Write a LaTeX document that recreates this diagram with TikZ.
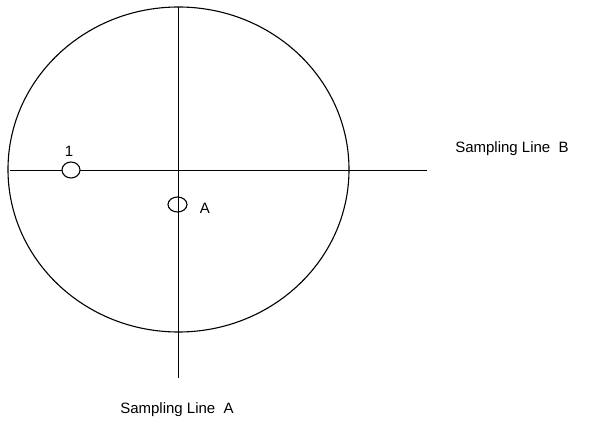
\documentclass[tikz,border=0pt]{standalone}
\usepackage{fontspec}
\setmainfont{Liberation Sans}
\usetikzlibrary{shapes.geometric,positioning}

\begin{document}
\begin{tikzpicture}[
  x=1pt, y=1pt,
  font=\fontsize{15}{18}\selectfont,
  line/.style={line width=1pt},
  site/.style={draw, ellipse, line width=1.1pt, fill=white, inner sep=0pt},
  lbl/.style={inner sep=0pt}
]
  \useasboundingbox (0,0) rectangle (603,429);
  % plot outline
  \node[draw, ellipse, line width=1.1pt, minimum width=341pt, minimum height=325pt, inner sep=0pt] (plot) at (178.5,259.5) {};
  % sampling lines
  \coordinate (atop) at (178.5,422);
  \coordinate (abot) at (178.5,51);
  \coordinate (bleft) at (10,258.5);
  \coordinate (bright) at (427,258.5);
  \draw[line] (atop) -- (abot);
  \draw[line] (bleft) -- (bright);
  % sites
  \node[site, minimum width=18pt, minimum height=16pt] (s1) at (71,259) {};
  \node[site, fill=none, minimum width=19pt, minimum height=15pt] (sA) at (177.5,224.5) {};
  \node[lbl] (l1) at (69,278) {1};
  \node[lbl] (lA) at (205,221) {A};
  \node[lbl] (lineB) at (512,280) {Sampling Line\ \ B};
  \node[lbl] (lineA) at (177,19) {Sampling Line\ \ A};
\end{tikzpicture}
\end{document}
